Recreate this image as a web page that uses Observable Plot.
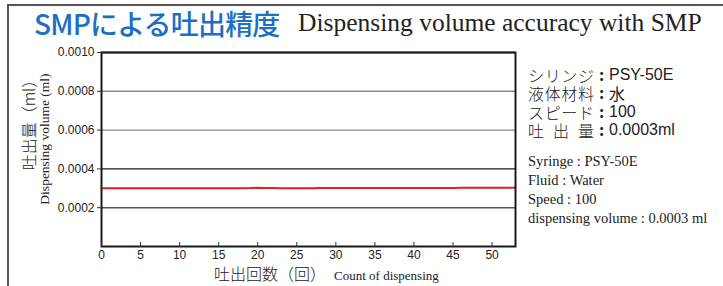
<!DOCTYPE html>
<html>
<head>
<meta charset="utf-8">
<script src="https://cdn.jsdelivr.net/npm/d3@7"></script>
<script src="https://cdn.jsdelivr.net/npm/@observablehq/plot@0.6"></script>
<style>
  html, body { margin: 0; padding: 0; background: #fff; }
  #wrap { position: relative; width: 723px; height: 286px; overflow: hidden; background: #fff; }
  #border { position: absolute; left: 7px; top: 4px; width: 730px; height: 300px;
            border-top: 2px solid #555; border-left: 2px solid #555; }
  #chart { position: absolute; left: 0; top: 0; }
  .t { position: absolute; white-space: nowrap; color: #222; }
  .jp { font-family: "Noto Sans CJK JP", "Noto Sans", sans-serif; }
  .serif { font-family: "Liberation Serif", "DejaVu Serif", serif; }
  .sans { font-family: "Liberation Sans", Arial, sans-serif; }
  .cell { position: absolute; top: 0; display: inline-block; height: 18px; line-height: 18px; overflow: visible; }
</style>
</head>
<body>
<div id="wrap">
  <div id="border"></div>
  <div id="chart"></div>
  <div class="t jp" id="title-jp" style="left:34px; top:3px; font-size:28px; font-weight:500; color:#1b6fc4; letter-spacing:-0.8px;"></div>
  <div class="t serif" id="title-en" style="left:298px; top:8px; font-size:25.5px; color:#222;"></div>
  <div class="t jp" id="ylab-jp" style="left:28px; top:121px; font-size:16px; font-weight:300; transform: translate(-50%,-50%) rotate(-90deg); transform-origin: center;"></div>
  <div class="t serif" id="ylab-en" style="left:45px; top:139px; font-size:13.5px; transform: translate(-50%,-50%) rotate(-90deg); transform-origin: center;"></div>
  <div class="t" id="xlab" style="left:214px; top:261px;"></div>
  <div class="t" id="info" style="left:528px; top:66px;"></div>
</div>
<script>
// ---- data ----
const titleJp = "SMPによる吐出精度";
const titleEn = "Dispensing volume accuracy with SMP";
const yLabelJp = "吐出量（ml）";
const yLabelEn = "Dispensing volume (ml)";
const xLabelJp = "吐出回数（回）";
const xLabelEn = "Count of dispensing";
const infoKeys = ["シリンジ", "液体材料", "スピード", "吐 出 量"];
const infoValues = ["PSY-50E", "水", "100", "0.0003ml"];
const infoEn = [
  "Syringe : PSY-50E",
  "Fluid : Water",
  "Speed : 100",
  "dispensing volume : 0.0003 ml"
];
const xTicks = [0, 5, 10, 15, 20, 25, 30, 35, 40, 45, 50];
const yTicks = [0.0002, 0.0004, 0.0006, 0.0008, 0.0010];
const gridColors = ["#555555", "#1a1a1a", "#8a8a8a", "#8a8a8a", "#1a1a1a"];
const counts = [0, 1, 2, 3, 4, 5, 6, 7, 8, 9, 10, 11, 12, 13, 14, 15, 16, 17, 18, 19, 20,
  21, 22, 23, 24, 25, 26, 27, 28, 29, 30, 31, 32, 33, 34, 35, 36, 37, 38, 39, 40,
  41, 42, 43, 44, 45, 46, 47, 48, 49, 50, 51, 52, 53];
const volumes = [
  0.000300, 0.000300, 0.000300, 0.000300, 0.000300, 0.000300, 0.000300, 0.000300, 0.000300, 0.000300,
  0.000300, 0.000300, 0.000300, 0.000300, 0.000300, 0.000300, 0.000300, 0.000300, 0.000300, 0.000301,
  0.000303, 0.000302, 0.000301, 0.000300, 0.000300, 0.000300, 0.000300, 0.000300, 0.000301, 0.000301,
  0.000301, 0.000301, 0.000301, 0.000301, 0.000301, 0.000301, 0.000301, 0.000302, 0.000302, 0.000302,
  0.000302, 0.000302, 0.000302, 0.000302, 0.000302, 0.000302, 0.000303, 0.000303, 0.000303, 0.000303,
  0.000303, 0.000303, 0.000303, 0.000303
];
const xDomain = [0, 53];
const yDomain = [0, 0.001];

// ---- texts ----
document.getElementById("title-jp").textContent = titleJp;
document.getElementById("title-en").textContent = titleEn;
document.getElementById("ylab-jp").textContent = yLabelJp;
document.getElementById("ylab-en").textContent = yLabelEn;
const xl = document.getElementById("xlab");
const xj = document.createElement("span"); xj.className = "jp"; xj.style.cssText = "font-size:16px; font-weight:300;"; xj.textContent = xLabelJp;
const xe = document.createElement("span"); xe.className = "serif"; xe.style.cssText = "font-size:13px; margin-left:8px;"; xe.textContent = xLabelEn;
xl.appendChild(xj); xl.appendChild(xe);

const info = document.getElementById("info");
infoKeys.forEach((k, i) => {
  const d = document.createElement("div");
  d.style.cssText = "position:relative; font-size:16px; height:18.3px;";
  const a = document.createElement("span"); a.className = "jp cell"; a.textContent = k;
  a.style.cssText = "left:0; width:66px; text-align:justify; text-align-last:justify; font-weight:300;";
  const c = document.createElement("span"); c.className = "jp cell"; c.textContent = ":";
  c.style.cssText = "left:71px; top:-1px; font-weight:700;";
  const v = infoValues[i];
  const b = document.createElement("span"); b.className = (/[0-9A-Za-z]/.test(v) ? "sans" : "jp") + " cell"; b.textContent = v;
  b.style.cssText = "left:81px;";
  d.appendChild(a); d.appendChild(c); d.appendChild(b);
  info.appendChild(d);
});
const gap = document.createElement("div"); gap.style.height = "13px"; info.appendChild(gap);
infoEn.forEach(s => {
  const d = document.createElement("div");
  d.className = "serif";
  d.style.cssText = "font-size:14.5px; line-height:19px;";
  d.textContent = s;
  info.appendChild(d);
});

// ---- chart ----
const data = counts.map((c, i) => ({count: c, volume: volumes[i]}));
const grid = yTicks.map((v, i) => ({v, c: gridColors[i]}));

const chart = Plot.plot({
  width: 723,
  height: 286,
  marginLeft: 101,
  marginRight: 208,
  marginTop: 52,
  marginBottom: 40,
  style: {fontFamily: "Liberation Sans, Arial, sans-serif", fontSize: "12px", color: "#222", background: "transparent"},
  x: {domain: xDomain},
  y: {domain: yDomain},
  marks: [
    Plot.ruleY(grid, {y: "v", stroke: "c", strokeWidth: 1.4}),
    Plot.line(data, {x: "count", y: "volume", stroke: "#e41e26", strokeWidth: 2}),
    Plot.frame({stroke: "#1a1a1a", strokeWidth: 2}),
    Plot.axisX({ticks: xTicks, anchor: "top", dy: 194, tickSize: 5, text: null, stroke: "#333", label: null}),
    Plot.axisX({ticks: xTicks, anchor: "bottom", tickSize: 0, tickPadding: 4, label: null, fill: "#222", fontSize: 12}),
    Plot.axisY({ticks: yTicks, tickSize: 4, tickPadding: 3, tickFormat: d3.format(".4f"), label: null, fill: "#222", stroke: "#333", fontSize: 12})
  ]
});
document.getElementById("chart").appendChild(chart);
</script>
</body>
</html>
